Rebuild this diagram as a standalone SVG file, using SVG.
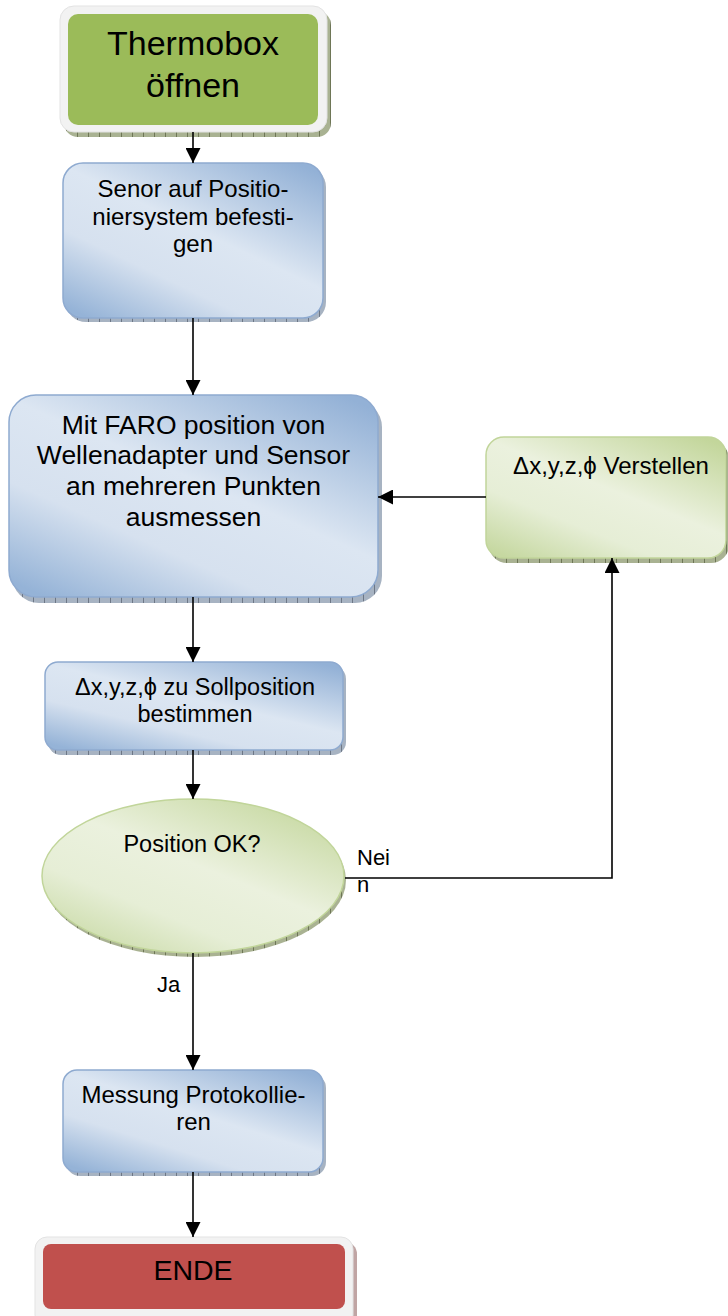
<svg xmlns="http://www.w3.org/2000/svg" width="728" height="1316" viewBox="0 0 728 1316">
  <defs>
    <linearGradient id="gBlue" x1="0.9" y1="0" x2="0.1" y2="1">
      <stop offset="0" stop-color="#93b1d6"/>
      <stop offset="0.45" stop-color="#dce6f2"/>
      <stop offset="0.7" stop-color="#d6e1ef"/>
      <stop offset="1" stop-color="#95b3d7"/>
    </linearGradient>
    <linearGradient id="gGreen" x1="0.9" y1="0" x2="0.1" y2="1">
      <stop offset="0" stop-color="#c3d69b"/>
      <stop offset="0.45" stop-color="#ebf1de"/>
      <stop offset="0.7" stop-color="#e6eed6"/>
      <stop offset="1" stop-color="#c6d8a1"/>
    </linearGradient>
    <pattern id="hBlue" width="11" height="6" patternUnits="userSpaceOnUse">
      <rect width="11" height="6" fill="#a7b3c2"/>
      <line x1="0.5" y1="0" x2="0.5" y2="6" stroke="#6d7786" stroke-width="1"/>
    </pattern>
    <pattern id="hGreen" width="11" height="6" patternUnits="userSpaceOnUse">
      <rect width="11" height="6" fill="#a9b292"/>
      <line x1="0.5" y1="0" x2="0.5" y2="6" stroke="#6e7656" stroke-width="1"/>
    </pattern>
    <pattern id="hRed" width="11" height="6" patternUnits="userSpaceOnUse">
      <rect width="11" height="6" fill="#c0a5a4"/>
      <line x1="0.5" y1="0" x2="0.5" y2="6" stroke="#8a6664" stroke-width="1"/>
    </pattern>
    <marker id="arrow" viewBox="0 0 10 10" refX="10" refY="5" markerWidth="15" markerHeight="15" markerUnits="userSpaceOnUse" orient="auto">
      <path d="M0,0 L10,5 L0,10 z" fill="#000"/>
    </marker>
  </defs>
  <style>
    text { font-family: "Liberation Sans", Arial, sans-serif; fill: #000; }
    .c { text-anchor: middle; }
    .blue { fill: url(#gBlue); stroke: #8eaad0; stroke-width: 1.5; }
    .green { fill: url(#gGreen); stroke: #c1d59a; stroke-width: 1.5; }
    .frame { fill: #f2f2f2; stroke: #e3e3e3; stroke-width: 1; }
    .conn { fill: none; stroke: #000; stroke-width: 1.6; }
  </style>

  <!-- Start -->
  <g id="start">
    <rect x="64" y="11" width="267" height="126" rx="14" fill="url(#hGreen)"/>
    <rect class="frame" x="60" y="6" width="267" height="126" rx="14"/>
    <rect x="68" y="14" width="250" height="111" rx="10" fill="#9bbb59"/>
    <text class="c" x="193" y="55" font-size="34">Thermobox</text>
    <text class="c" x="193" y="97" font-size="34">öffnen</text>
  </g>

  <!-- Mount sensor -->
  <g id="mount">
    <rect x="66" y="167" width="260" height="155" rx="20" fill="url(#hBlue)"/>
    <rect class="blue" x="63" y="163" width="260" height="155" rx="20"/>
    <text class="c" x="193" y="197" font-size="24">Senor auf Positio-</text>
    <text class="c" x="193" y="224.5" font-size="24">niersystem befesti-</text>
    <text class="c" x="193" y="252" font-size="24">gen</text>
  </g>

  <!-- FARO measurement -->
  <g id="measure">
    <rect x="12" y="400" width="370" height="203" rx="27" fill="url(#hBlue)"/>
    <rect class="blue" x="9" y="395" width="369" height="202" rx="27"/>
    <text class="c" x="193.5" y="433.5" font-size="26.5">Mit FARO position von</text>
    <text class="c" x="193.5" y="464.3" font-size="26.5">Wellenadapter und Sensor</text>
    <text class="c" x="193.5" y="495.1" font-size="26.5">an mehreren Punkten</text>
    <text class="c" x="193.5" y="525.9" font-size="26.5">ausmessen</text>
  </g>

  <!-- Adjust -->
  <g id="adjust">
    <rect x="489" y="441" width="240" height="122" rx="18" fill="url(#hGreen)"/>
    <rect class="green" x="486" y="437" width="240" height="121" rx="18"/>
    <text class="c" x="611" y="474" font-size="24">Δx,y,z,ϕ Verstellen</text>
  </g>

  <!-- Deviation -->
  <g id="deviation">
    <rect x="48" y="666" width="298" height="89" rx="13" fill="url(#hBlue)"/>
    <rect class="blue" x="45" y="662" width="298" height="88" rx="13"/>
    <text class="c" x="195" y="695" font-size="23.5">Δx,y,z,ϕ zu Sollposition</text>
    <text class="c" x="195" y="722" font-size="23.5">bestimmen</text>
  </g>

  <!-- Decision -->
  <g id="decision">
    <ellipse cx="195" cy="880" rx="151" ry="77" fill="url(#hGreen)"/>
    <ellipse class="green" cx="193" cy="876" rx="151" ry="77"/>
    <text class="c" x="192" y="852" font-size="23.5">Position OK?</text>
  </g>

  <!-- Record -->
  <g id="record">
    <rect x="66" y="1074" width="260" height="102" rx="14" fill="url(#hBlue)"/>
    <rect class="blue" x="63" y="1070" width="260" height="102" rx="14"/>
    <text class="c" x="193.5" y="1103" font-size="24">Messung Protokollie-</text>
    <text class="c" x="193.5" y="1130" font-size="24">ren</text>
  </g>

  <!-- End -->
  <g id="end">
    <rect x="39" y="1242" width="318" height="90" rx="12" fill="url(#hRed)"/>
    <rect class="frame" x="35" y="1237" width="318" height="90" rx="12"/>
    <rect x="43" y="1244" width="302" height="65" rx="8" fill="#c0504d"/>
    <text class="c" x="193" y="1280" font-size="28.5">ENDE</text>
  </g>

  <!-- Connectors -->
  <g id="connectors">
    <line class="conn" x1="193" y1="132" x2="193" y2="163" marker-end="url(#arrow)"/>
    <line class="conn" x1="193" y1="318" x2="193" y2="395" marker-end="url(#arrow)"/>
    <line class="conn" x1="193" y1="597" x2="193" y2="662" marker-end="url(#arrow)"/>
    <line class="conn" x1="193" y1="750" x2="193" y2="799" marker-end="url(#arrow)"/>
    <line class="conn" x1="193" y1="953" x2="193" y2="1070" marker-end="url(#arrow)"/>
    <line class="conn" x1="193" y1="1172" x2="193" y2="1237" marker-end="url(#arrow)"/>
    <polyline class="conn" points="345,878 612,878 612,558" marker-end="url(#arrow)"/>
    <line class="conn" x1="486" y1="497" x2="378" y2="497" marker-end="url(#arrow)"/>
    <text x="157" y="992" font-size="22">Ja</text>
    <text x="357" y="865" font-size="22">Nei</text>
    <text x="357" y="892" font-size="22">n</text>
  </g>
</svg>
